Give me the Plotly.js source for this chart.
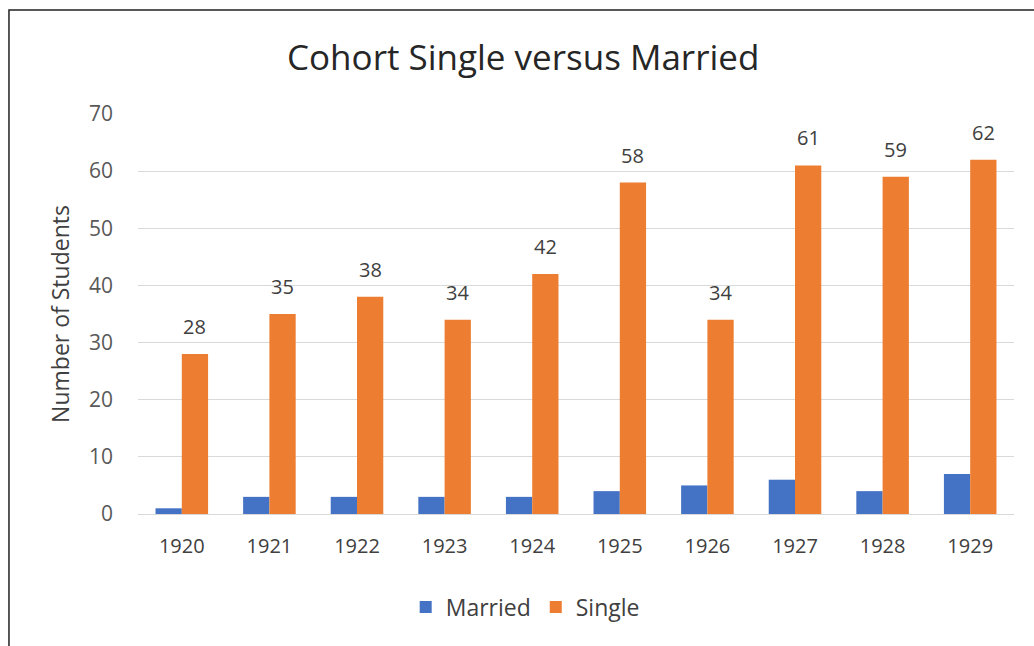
<!DOCTYPE html>
<html>
<head>
<meta charset="utf-8">
<script src="https://cdn.plot.ly/plotly-3.0.1.min.js"></script>
<style>html,body{margin:0;padding:0;background:#fff;}#chart{width:1034px;height:646px;}</style>
</head>
<body>
<div id="chart"></div>
<script>
const years = ["1920","1921","1922","1923","1924","1925","1926","1927","1928","1929"];
const married = [1,3,3,3,3,4,5,6,4,7];
const single = [28,35,38,34,42,58,34,61,59,62];
const yTicks = [0,10,20,30,40,50,60,70];

const font = "Open Sans, Liberation Sans, sans-serif";
const traces = [
  {type:"bar", name:"Married", x:years, y:married, marker:{color:"#4472C4"}, hoverinfo:"y"},
  {type:"bar", name:"Single", x:years, y:single, marker:{color:"#ED7D31"}, hoverinfo:"y"}
];
// category index i is the position of years[i] on the category axis
const labels = years.map((yr, i) => ({
  x: i, y: single[i], xref: "x", yref: "y", text: String(single[i]),
  showarrow: false, yanchor: "bottom", xanchor: "center", xshift: 13, yshift: 12,
  font: {size: 20, color: "#404040", family: font}
}));
const layout = {
  width:1034, height:646,
  margin:{l:138, r:20, t:114, b:132},
  paper_bgcolor:"#fff", plot_bgcolor:"#fff",
  font:{family:font, color:"#595959"},
  title:{text:"Cohort Single versus Married", x:0.506, xanchor:"center", y:0.91, yanchor:"middle",
         font:{size:35, color:"#262626", family:font}},
  barmode:"group", bargap:0.4, bargroupgap:0,
  xaxis:{type:"category", tickfont:{size:20, color:"#404040"}, showgrid:false,
         showline:true, linecolor:"#d9d9d9", ticks:"", ticklen:0, ticklabelstandoff:14,
         range:[-0.5, years.length - 0.5]},
  yaxis:{range:[0,70], tickvals:yTicks, ticktext:yTicks.map(String), showgrid:true, gridcolor:"#d9d9d9",
         zeroline:false, showline:false, ticks:"", tickfont:{size:21, color:"#595959"},
         ticklabelstandoff:24,
         title:{text:"Number of Students", font:{size:23, color:"#404040"}, standoff:12}},
  legend:{orientation:"h", x:0.442, xanchor:"center", y:-0.2325, yanchor:"middle",
          font:{size:23, color:"#404040"}},
  annotations: labels,
  shapes:[{type:"rect", xref:"paper", yref:"paper", x0:-0.1473, x1:1.1, y0:-0.35, y1:1.26,
           line:{color:"#222", width:1.5}, fillcolor:"rgba(0,0,0,0)", layer:"above"}]
};
Plotly.newPlot("chart", traces, layout, {displayModeBar:false, staticPlot:true});
</script>
</body>
</html>
